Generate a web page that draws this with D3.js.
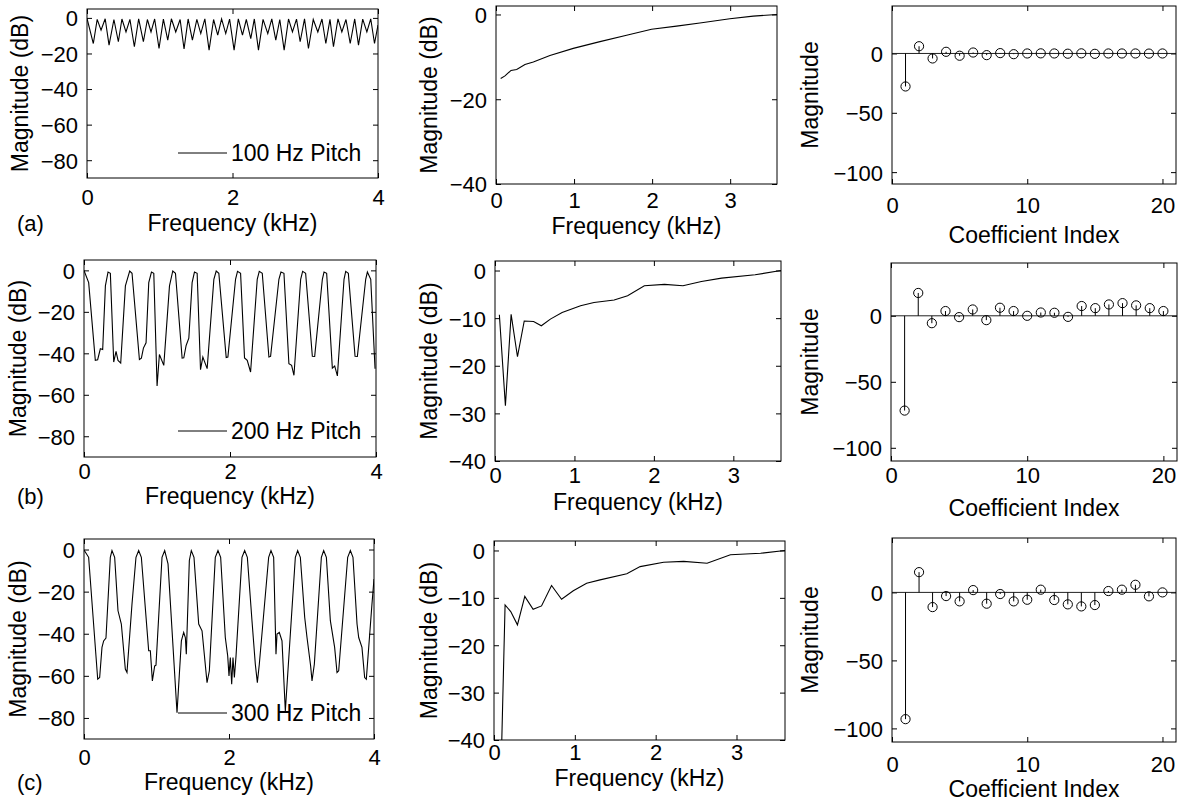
<!DOCTYPE html>
<html>
<head>
<meta charset="utf-8">
<style>
  body { margin: 0; background: #fff; }
  svg { display: block; }
  text { font-family: "Liberation Sans", Arial, Helvetica, sans-serif; fill: #000; }
</style>
<script src="https://d3js.org/d3.v7.min.js"></script>
</head>
<body>
<svg width="1186" height="801"></svg>
<script>
// ---- data ----
// left column: log magnitude spectra, [kHz, dB] vertices
var pitch100 = [[0,-0.3],[0.087,-14.4],[0.14,-0.8],[0.193,-6.9],[0.25,-0.5],[0.303,-15.3],[0.37,-0.9],[0.431,-13.4],
  [0.48,-0.6],[0.536,-7.9],[0.59,-0.8],[0.651,-16.2],[0.71,-0.5],[0.775,-13.4],[0.83,-0.9],[0.88,-7.9],[0.93,-0.6],
  [0.99,-17.2],[1.05,-0.7],[1.11,-12.5],[1.16,-0.5],[1.22,-7.9],[1.28,-0.9],[1.334,-17.5],[1.39,-0.6],[1.449,-12.5],
  [1.51,-0.8],[1.564,-8.8],[1.62,-0.5],[1.678,-18.1],[1.74,-0.9],[1.797,-9.7],[1.85,-0.6],[1.907,-8.8],[1.96,-0.7],
  [2.022,-18.1],[2.08,-0.5],[2.137,-9.7],[2.19,-0.9],[2.251,-11.6],[2.30,-0.6],[2.357,-18.1],[2.42,-0.8],[2.485,-8.8],
  [2.54,-0.5],[2.595,-12.5],[2.65,-0.9],[2.71,-18.1],[2.77,-0.6],[2.824,-7.9],[2.88,-0.7],[2.93,-13.4],[2.99,-0.5],
  [3.044,-17.2],[3.11,-0.9],[3.173,-7.9],[3.23,-0.6],[3.283,-14.4],[3.34,-0.8],[3.388,-16.2],[3.45,-0.5],[3.503,-7.9],
  [3.56,-0.9],[3.618,-14.4],[3.68,-0.6],[3.732,-15.3],[3.79,-0.7],[3.847,-7.9],[3.90,-0.5],[3.952,-14.4],[4.0,-4]];

var pitch200 = [[0,0],[0.064,-5.9],[0.155,-43.4],[0.187,-43.1],[0.224,-37.8],[0.256,-38.2],[0.293,-7.5],[0.329,-0.8],
  [0.361,-1.4],[0.407,-44.2],[0.439,-39.1],[0.466,-43.4],[0.503,-44.7],[0.567,-7.5],[0.626,-0.3],[0.658,-1.4],
  [0.759,-43.0],[0.786,-42.3],[0.814,-37.5],[0.85,-34.9],[0.887,-5.9],[0.924,-0.8],[0.956,-1.4],[1.001,-55.7],
  [1.033,-40.6],[1.093,-45.8],[1.171,-7.5],[1.216,-0.3],[1.253,-1.4],[1.344,-42.3],[1.367,-42.2],[1.399,-36.2],
  [1.436,-32.7],[1.481,-5.9],[1.513,-0.8],[1.55,-1.4],[1.596,-47.9],[1.628,-41.8],[1.687,-47.4],[1.779,-4.3],
  [1.811,-0.3],[1.847,-1.4],[1.948,-42.0],[1.971,-41.8],[2.076,-4.3],[2.103,-0.5],[2.145,-1.4],[2.199,-42.2],
  [2.236,-43.4],[2.282,-49.0],[2.373,-4.3],[2.401,-0.5],[2.442,-1.4],[2.533,-41.8],[2.556,-41.5],[2.67,-4.3],
  [2.698,-0.8],[2.739,-1.4],[2.807,-45.0],[2.844,-45.8],[2.876,-50.6],[2.968,-4.3],[2.995,-0.5],[3.036,-1.4],
  [3.128,-41.4],[3.16,-41.5],[3.265,-4.3],[3.288,-0.8],[3.324,-1.4],[3.402,-47.1],[3.434,-46.1],[3.471,-50.9],
  [3.562,-4.3],[3.585,-0.5],[3.621,-1.4],[3.713,-41.4],[3.745,-41.5],[3.859,-4.3],[3.882,-0.8],[3.928,-4.3],[3.987,-47.4]];

var pitch300 = [[0,-0.2],[0.064,-3.7],[0.189,-61.6],[0.216,-60.8],[0.248,-46.5],[0.271,-43.4],[0.303,-42.1],[0.363,-3.7],
  [0.386,-0.5],[0.423,-3.7],[0.469,-29.1],[0.515,-35.4],[0.57,-56.8],[0.593,-58.4],[0.662,-25.9],[0.717,-3.7],
  [0.754,-0.5],[0.791,-3.7],[0.892,-48.1],[0.915,-48.1],[0.943,-62.4],[0.975,-55.3],[0.993,-54.9],[1.076,-3.7],
  [1.113,-0.5],[1.159,-6.8],[1.283,-77.5],[1.343,-43.4],[1.375,-39.4],[1.398,-41.8],[1.411,-49.7],[1.453,-5.2],
  [1.48,-0.5],[1.517,-3.7],[1.582,-35.4],[1.628,-38.6],[1.697,-63.2],[1.729,-57.6],[1.811,-3.7],[1.848,-0.5],
  [1.885,-3.7],[1.949,-41.8],[1.982,-50.5],[2.0,-60.0],[2.018,-51.3],[2.037,-64.0],[2.055,-51.3],[2.074,-60.8],
  [2.097,-50.5],[2.179,-3.7],[2.216,-0.5],[2.253,-3.7],[2.317,-33.8],[2.363,-54.5],[2.391,-63.2],[2.418,-54.5],
  [2.547,-3.7],[2.579,-0.5],[2.616,-3.7],[2.648,-49.7],[2.662,-40.2],[2.694,-39.4],[2.731,-43.4],[2.777,-76.7],
  [2.915,-3.7],[2.947,-0.5],[2.984,-3.7],[3.044,-32.2],[3.076,-41.8],[3.126,-55.3],[3.145,-62.4],[3.177,-54.5],
  [3.274,-3.7],[3.306,-0.5],[3.343,-3.7],[3.398,-33.8],[3.457,-46.5],[3.49,-58.4],[3.513,-57.6],[3.637,-3.7],
  [3.674,-0.5],[3.71,-3.7],[3.766,-35.4],[3.789,-41.8],[3.834,-46.5],[3.871,-60.8],[3.894,-61.6],[3.972,-25.9],[4.0,-14]];

// middle column: smoothed envelopes, [kHz, dB]
var env100 = [[0.06,-15.1],[0.115,-14.5],[0.192,-13.2],[0.265,-13.0],[0.371,-11.8],[0.478,-11.2],[0.691,-9.7],
  [0.99,-8.0],[1.332,-6.4],[1.673,-4.9],[1.993,-3.5],[2.313,-2.75],[2.612,-2.0],[2.996,-1.0],[3.295,-0.4],[3.6,0]];
var env200 = [[0.055,-9.3],[0.131,-28.4],[0.203,-9.2],[0.283,-18.1],[0.368,-10.6],[0.486,-10.7],[0.583,-11.6],
  [0.697,-10.2],[0.845,-8.8],[1.077,-7.4],[1.246,-6.7],[1.5,-6.2],[1.669,-5.3],[1.88,-3.2],[2.133,-2.9],
  [2.366,-3.2],[2.598,-2.3],[2.852,-1.6],[3.274,-0.9],[3.6,0]];
var env300 = [[0.085,-48],[0.137,-11.5],[0.207,-12.9],[0.29,-15.7],[0.381,-9.7],[0.484,-12.4],[0.588,-11.7],
  [0.712,-7.4],[0.836,-10.3],[0.981,-8.5],[1.146,-6.9],[1.312,-6.2],[1.643,-4.9],[1.808,-3.4],[2.098,-2.5],
  [2.346,-2.3],[2.636,-2.7],[2.925,-0.9],[3.298,-0.6],[3.6,0]];

// right column: cepstral coefficients 1..20
var coefIndex = d3.range(1, 21);
var coef100 = [-27.8, 6.1, -4.2, 1.4, -1.9, 0.8, -1.4, 0.3, -0.6, 0, 0.1, 0, -0.2, 0.1, -0.3, 0, 0, 0, -0.1, 0];
var coef200 = [-71.8, 17.3, -5.6, 3.6, -1.0, 4.8, -3.3, 6.1, 3.6, 0, 2.5, 2.3, -0.8, 7.4, 5.8, 8.6, 9.6, 7.9, 5.8, 3.6];
var coef300 = [-93.2, 14.9, -10.8, -2.7, -6.6, 1.7, -8.3, -1.2, -6.6, -5.4, 2.0, -5.6, -8.8, -10.3, -9.3, 1.0, 2.0, 5.6, -2.9, 0];

var legendLabels = ["100 Hz Pitch", "200 Hz Pitch", "300 Hz Pitch"];
var tags = ["(a)", "(b)", "(c)"];
var specTicksX = [0, 2, 4], specTicksY = [0, -20, -40, -60, -80];
var envTicksX = [0, 1, 2, 3];
var coefTicksX = [0, 10, 20], coefTicksY = [0, -50, -100];

// ---- layout ----
var panels = [
  {kind: "line", data: pitch100, box: [87, 378, 9, 178], xd: [0, 4], yd: [-90, 5], xt: specTicksX, yt: specTicksY,
   xlab: "Frequency (kHz)", ylab: "Magnitude (dB)", tb: 205, lb: 231, yl: 28, legend: legendLabels[0], legY: 153, tag: tags[0]},
  {kind: "line", data: env100, box: [496, 777, 6, 184], xd: [0, 3.6], yd: [-40, 2], xt: envTicksX, yt: [0, -20, -40],
   xlab: "Frequency (kHz)", ylab: "Magnitude (dB)", tb: 208, lb: 234, yl: 437},
  {kind: "stem", data: coef100, box: [892, 1176, 6, 184], xd: [0, 21], yd: [-110, 40], xt: coefTicksX, yt: coefTicksY,
   xlab: "Coefficient Index", ylab: "Magnitude", tb: 213, lb: 243, yl: 818},

  {kind: "line", data: pitch200, box: [84, 376, 260, 457], xd: [0, 4], yd: [-90, 5], xt: specTicksX, yt: specTicksY,
   xlab: "Frequency (kHz)", ylab: "Magnitude (dB)", tb: 479, lb: 504, yl: 26, legend: legendLabels[1], legY: 431, tag: tags[1]},
  {kind: "line", data: env200, box: [495, 781, 261, 461], xd: [0, 3.6], yd: [-40, 2], xt: envTicksX, yt: [0, -10, -20, -30, -40],
   xlab: "Frequency (kHz)", ylab: "Magnitude (dB)", tb: 483, lb: 510, yl: 437},
  {kind: "stem", data: coef200, box: [891, 1177, 263, 461], xd: [0, 21], yd: [-110, 40], xt: coefTicksX, yt: coefTicksY,
   xlab: "Coefficient Index", ylab: "Magnitude", tb: 483, lb: 516, yl: 818},

  {kind: "line", data: pitch300, box: [84, 374, 539, 739], xd: [0, 4], yd: [-90, 5], xt: specTicksX, yt: specTicksY,
   xlab: "Frequency (kHz)", ylab: "Magnitude (dB)", tb: 765, lb: 790, yl: 26, legend: legendLabels[2], legY: 713, tag: tags[2]},
  {kind: "line", data: env300, box: [494, 785, 541, 740], xd: [0, 3.6], yd: [-40, 2], xt: envTicksX, yt: [0, -10, -20, -30, -40],
   xlab: "Frequency (kHz)", ylab: "Magnitude (dB)", tb: 760, lb: 786, yl: 437},
  {kind: "stem", data: coef300, box: [892, 1176, 538, 742], xd: [0, 21], yd: [-110, 40], xt: coefTicksX, yt: coefTicksY,
   xlab: "Coefficient Index", ylab: "Magnitude", tb: 772, lb: 797, yl: 818}
];

var svg = d3.select("svg");
svg.append("rect").attr("width", 1186).attr("height", 801).attr("fill", "#fff");

var TICK = 5, FS = 22;
function fmt(d) { return d < 0 ? "\u2212" + (-d) : String(d); }

panels.forEach(function(p, i) {
  var x0 = p.box[0], x1 = p.box[1], y0 = p.box[2], y1 = p.box[3];
  var x = d3.scaleLinear().domain(p.xd).range([x0, x1]);
  var y = d3.scaleLinear().domain(p.yd).range([y1, y0]);
  var g = svg.append("g");

  g.append("clipPath").attr("id", "clip" + i)
    .append("rect").attr("x", x0).attr("y", y0).attr("width", x1 - x0).attr("height", y1 - y0);

  // ticks on all four sides, pointing inward
  var bottom = g.append("g").attr("transform", "translate(0," + y1 + ")")
    .call(d3.axisBottom(x).tickValues(p.xt).tickFormat(fmt).tickSizeInner(-TICK).tickSizeOuter(0));
  bottom.selectAll("text").attr("y", p.tb - y1).attr("dy", 0).style("font-size", FS + "px");
  var left = g.append("g").attr("transform", "translate(" + x0 + ",0)")
    .call(d3.axisLeft(y).tickValues(p.yt).tickFormat(fmt).tickSizeInner(-TICK).tickSizeOuter(0).tickPadding(9));
  left.selectAll("text").attr("dy", "0.36em").style("font-size", FS + "px");
  g.append("g").attr("transform", "translate(0," + y0 + ")")
    .call(d3.axisTop(x).tickValues(p.xt).tickSizeInner(-TICK).tickSizeOuter(0).tickFormat(""));
  g.append("g").attr("transform", "translate(" + x1 + ",0)")
    .call(d3.axisRight(y).tickValues(p.yt).tickSizeInner(-TICK).tickSizeOuter(0).tickFormat(""));
  g.selectAll(".domain").remove();
  g.selectAll(".tick line").attr("stroke", "#000");
  g.selectAll(".tick text").attr("fill", "#000");
  g.selectAll("g").attr("font-family", null);

  var plot = g.append("g").attr("clip-path", "url(#clip" + i + ")");

  if (p.kind === "line") {
    var line = d3.line().x(function(d) { return x(d[0]); }).y(function(d) { return y(d[1]); });
    plot.append("path").datum(p.data).attr("d", line)
      .attr("fill", "none").attr("stroke", "#000").attr("stroke-width", 1.1);
  } else {
    plot.append("line").attr("x1", x0).attr("x2", x1).attr("y1", y(0)).attr("y2", y(0))
      .attr("stroke", "#222").attr("stroke-width", 1);
    var st = plot.selectAll(".stem").data(p.data).enter().append("g");
    st.append("line")
      .attr("x1", function(d, k) { return x(coefIndex[k]); })
      .attr("x2", function(d, k) { return x(coefIndex[k]); })
      .attr("y1", y(0)).attr("y2", function(d) { return y(d); })
      .attr("stroke", "#000").attr("stroke-width", 1);
    st.append("circle")
      .attr("cx", function(d, k) { return x(coefIndex[k]); })
      .attr("cy", function(d) { return y(d); })
      .attr("r", 4.6).attr("fill", "none").attr("stroke", "#000").attr("stroke-width", 1);
  }

  g.append("rect").attr("x", x0).attr("y", y0).attr("width", x1 - x0).attr("height", y1 - y0)
    .attr("fill", "none").attr("stroke", "#000").attr("stroke-width", 1);

  // legend without frame
  if (p.legend) {
    g.append("line").attr("x1", 178).attr("x2", 227).attr("y1", p.legY).attr("y2", p.legY)
      .attr("stroke", "#000").attr("stroke-width", 1);
    g.append("text").attr("x", 231).attr("y", p.legY).attr("dy", "0.36em")
      .style("font-size", "23px").text(p.legend);
  }

  g.append("text").attr("x", (x0 + x1) / 2).attr("y", p.lb).attr("text-anchor", "middle")
    .style("font-size", "23px").text(p.xlab);
  g.append("text").attr("transform", "translate(" + p.yl + "," + (y0 + y1) / 2 + ") rotate(-90)")
    .attr("text-anchor", "middle").style("font-size", "23px").text(p.ylab);
  if (p.tag) {
    g.append("text").attr("x", 17).attr("y", p.lb).style("font-size", "22px").text(p.tag);
  }
});
</script>
</body>
</html>
